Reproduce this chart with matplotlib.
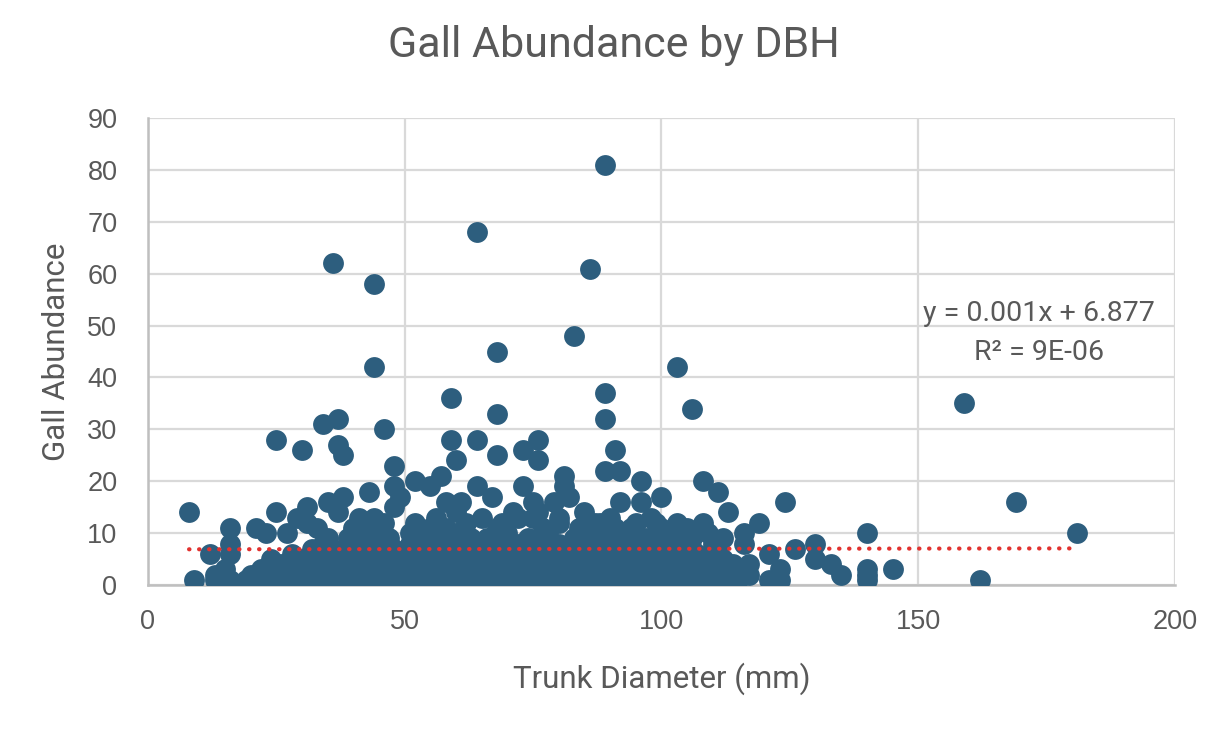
"""
Gall abundance vs trunk diameter (DBH) scatter with linear trendline
"""

import matplotlib
matplotlib.use('Agg')
import matplotlib.pyplot as plt
import numpy as np

plt.rcParams['font.family'] = ['Roboto', 'DejaVu Sans']

dot_color = '#2D5E7E'
text_color = '#595959'
grid_color = '#D9D9D9'
trend_color = '#E2322F'

# outliers, galls > 20
dbh_high = [89, 64, 36, 86, 44, 83, 68, 44, 103, 89, 59, 159, 106, 68, 37, 89, 34, 46,
            25, 59, 64, 76, 37, 30, 73, 91, 38, 68, 60, 76, 48, 89, 92, 57, 81]
galls_high = [81, 68, 62, 61, 58, 48, 45, 42, 42, 37, 36, 35, 34, 33, 32, 32, 31, 30,
              28, 28, 28, 28, 27, 26, 26, 26, 25, 25, 24, 24, 23, 22, 22, 21, 21]

# middle band, galls 9-20
dbh_mid = [8, 16, 21, 23, 25, 27, 29, 31, 31, 35, 37, 38, 41, 43, 44, 45, 48, 48, 49, 52,
           52, 53, 55, 56, 58, 58, 60, 61, 63, 64, 65, 67, 69, 72, 73, 75, 75, 76, 77, 79,
           80, 81, 82, 84, 85, 87, 90, 91, 92, 95, 96, 96, 98, 100, 100, 103, 108, 108,
           109, 111, 112, 113, 116, 119, 124, 140, 169, 181, 16, 116,
           35, 39, 42, 47, 51, 56, 60, 66, 70, 74, 78, 83, 86, 89, 93, 97, 102, 106,
           33, 40, 46, 55, 62, 68, 71, 80, 88, 94, 99, 105]
galls_mid = [14, 11, 11, 10, 14, 10, 13, 15, 12, 16, 14, 17, 13, 18, 13, 10, 15, 19, 17, 20,
             12, 9, 19, 13, 16, 11, 14, 16, 9, 19, 13, 17, 12, 13, 19, 16, 13, 14, 11, 16,
             12, 19, 17, 11, 14, 12, 13, 11, 16, 12, 16, 20, 13, 17, 11, 12, 20, 12,
             10, 18, 9, 14, 10, 12, 16, 10, 16, 10, 8, 8,
             9, 9, 10, 9, 10, 9, 10, 9, 10, 9, 10, 9, 9, 10, 9, 9, 10, 9,
             11, 11, 12, 11, 12, 11, 14, 13, 12, 11, 12, 11]

# dense cluster near the bottom, galls 1-8 (estimated, overlapping markers)
dbh_low = [9, 13, 16, 19, 22, 25, 28, 31, 34, 37, 40, 43, 46, 49, 52, 55, 58, 61, 64, 67,
           70, 73, 76, 79, 82, 85, 88, 91, 94, 97, 100, 103, 106, 109, 112, 115, 121, 123,
           140, 162,
           13, 20, 24, 29, 33, 38, 42, 47, 51, 54, 57, 60, 63, 66, 69, 72, 75, 78, 81, 84,
           87, 90, 93, 96, 99, 102, 105, 108, 111, 117, 135, 140,
           15, 22, 27, 31, 35, 39, 44, 48, 53, 56, 59, 62, 65, 68, 71, 74, 77, 80, 83, 86,
           89, 92, 95, 98, 101, 104, 107, 110, 113, 123, 140, 145,
           26, 33, 37, 41, 45, 50, 54, 58, 61, 64, 67, 70, 73, 76, 79, 82, 85, 88, 91, 94,
           97, 100, 103, 106, 109, 114, 117, 133,
           24, 30, 36, 40, 43, 47, 51, 55, 59, 62, 66, 69, 72, 75, 78, 81, 84, 87, 90, 93,
           96, 99, 102, 105, 108, 112, 130,
           12, 16, 28, 34, 38, 42, 46, 49, 53, 57, 60, 63, 67, 71, 74, 77, 80, 83, 86, 89,
           92, 95, 98, 101, 104, 107, 111, 121,
           32, 36, 41, 44, 48, 52, 56, 59, 62, 65, 68, 71, 74, 78, 81, 84, 87, 90, 93, 96,
           99, 103, 106, 111, 126,
           34, 39, 43, 47, 51, 55, 58, 61, 64, 68, 72, 76, 80, 85, 88, 92, 95, 100, 105,
           110, 130]
galls_low = [1] * 40 + [2] * 32 + [3] * 32 + [4] * 28 + [5] * 27 + [6] * 28 + [7] * 25 + [8] * 21

# Excel trendline label values
slope = 0.001
intercept = 6.877
r2_label = '9E-06'

dbh = np.array(dbh_high + dbh_mid + dbh_low, dtype=float)
galls = np.array(galls_high + galls_mid + galls_low, dtype=float)

fig = plt.figure(figsize=(12.24, 7.30), dpi=100)
ax = fig.add_axes([0.1209, 0.1986, 0.839, 0.6397])

ax.scatter(dbh, galls, s=225, color=dot_color, linewidths=0, zorder=3)

# linear trendline over data range
xt = np.array([dbh.min(), dbh.max()])
ax.plot(xt, slope * xt + intercept, color=trend_color, lw=3,
        linestyle=(0, (0.1, 2.3)), dash_capstyle='round', zorder=4)

ax.text(173.5, 52.3, 'y = 0.001x + 6.877', ha='center', va='center',
        fontsize=20.5, color=text_color, zorder=5)
ax.text(173.5, 44.8, 'R² = ' + r2_label, ha='center', va='center',
        fontsize=20.5, color=text_color, zorder=5)

ax.set_xlim(0, 200)
ax.set_ylim(0, 90)
ax.set_xticks([0, 50, 100, 150, 200])
ax.set_yticks(range(0, 91, 10))
ax.grid(True, color=grid_color, lw=1.6)
ax.set_axisbelow(True)

for s in ['top', 'right']:
    ax.spines[s].set_visible(False)
for s in ['left', 'bottom']:
    ax.spines[s].set_color('#BFBFBF')
    ax.spines[s].set_linewidth(1.8)

ax.tick_params(length=0, labelsize=19.5, labelcolor=text_color)
ax.tick_params(axis='y', pad=22)
ax.tick_params(axis='x', pad=17)
for lab in ax.get_xticklabels() + ax.get_yticklabels():
    lab.set_family(['Liberation Sans', 'DejaVu Sans'])

ax.set_xlabel('Trunk Diameter (mm)', fontsize=22.5, color=text_color, labelpad=20)
ax.set_ylabel('Gall Abundance', fontsize=22.5, color=text_color, labelpad=12)

fig.text(0.5016, 0.938, 'Gall Abundance by DBH', ha='center', va='center',
         fontsize=31, color=text_color)

plt.savefig('out.png', dpi=100)
